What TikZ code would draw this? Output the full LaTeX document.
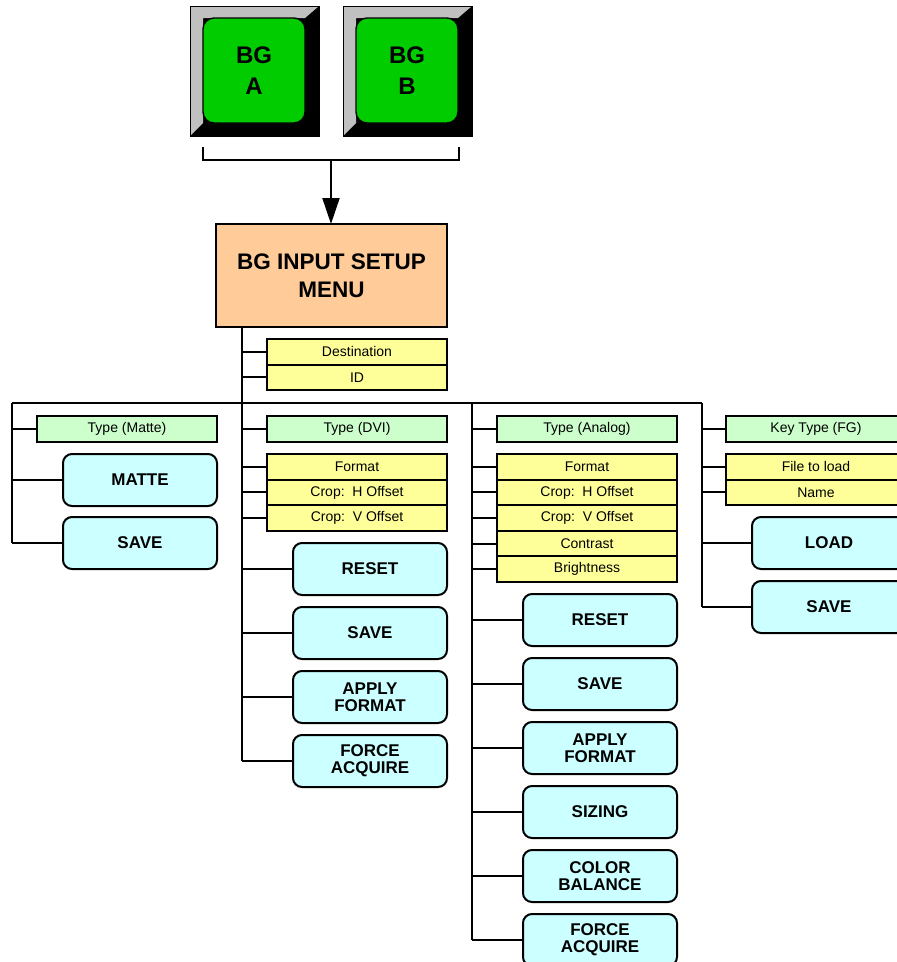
\documentclass[tikz,border=0pt]{standalone}
\usepackage{fontspec}
\setmainfont{Liberation Sans}
\usetikzlibrary{arrows.meta}
\definecolor{peach}{HTML}{FFCC99}
\definecolor{lgreen}{HTML}{CCFFCC}
\definecolor{lyel}{HTML}{FFFF99}
\definecolor{lcyan}{HTML}{CCFFFF}
\definecolor{keygreen}{HTML}{00CC00}
\definecolor{bevelgray}{HTML}{C0C0C0}
\tikzset{
  box/.style={draw=black, line width=2pt, inner sep=0pt, outer sep=0pt, anchor=north west, align=center},
  grn/.style={box, fill=lgreen, minimum width=180pt, minimum height=25.6pt, font=\fontsize{14}{16}\selectfont},
  yel/.style={box, fill=lyel, minimum width=180pt, minimum height=25.6pt, font=\fontsize{14}{16}\selectfont},
  btn/.style={box, fill=lcyan, rounded corners=9pt, minimum width=154pt, minimum height=52pt, font=\bfseries\fontsize{17}{17}\selectfont},
  menubox/.style={box, fill=peach, minimum width=231pt, minimum height=103pt, font=\bfseries\fontsize{22.5}{27.5}\selectfont},
  keyface/.style={draw=black, line width=1.4pt, fill=keygreen, rounded corners=11pt, inner sep=0pt, outer sep=0pt, anchor=north west, minimum width=102pt, minimum height=105pt, align=center, font=\bfseries\fontsize{24}{31.5}\selectfont},
  link/.style={draw=black, line width=2pt}
}
\begin{document}
\begin{tikzpicture}[x=1pt,y=-1pt]
\useasboundingbox (0,0) rectangle (897,962);
\clip (0,0) rectangle (897,962);

% ---- key buttons ----
\foreach \ox in {190,343}{
  \fill[black] (\ox,6) rectangle ++(129,130);
  \fill[bevelgray] (\ox,6) -- ++(129,0) -- ++(-14,12) -- ++(-102,0) -- ++(0,105) -- ++(-13,13) -- cycle;
  \draw[black, line width=1pt] (\ox,6) rectangle ++(129,130);
}
\node[keyface] (bga) at (203,18) {BG\\A};
\node[keyface] (bgb) at (356,18) {BG\\B};

% ---- bracket and arrow ----
\coordinate (brl) at (203,147);
\coordinate (brr) at (459,147);
\coordinate (brm) at (331,160);
\draw[link] (brl) |- (brm) -| (brr);

\node[menubox] (menu) at (216,224) {BG INPUT SETUP\\MENU};
\draw[link, -{Triangle[length=26pt,width=17pt]}] (brm) -- (brm |- menu.north);

% ---- trunk coordinates ----
\coordinate (tL) at (12,403);
\coordinate (tA) at (242,403);
\coordinate (tN) at (472,403);
\coordinate (tR) at (702,403);

% ---- left column ----
\node[grn] (tmatte) at (37,416) {Type (Matte)};
\node[btn] (matte) at (63,454) {MATTE};
\node[btn] (msave) at (63,517) {SAVE};

% ---- DVI column ----
\node[yel] (dest) at (267,339) {Destination};
\node[yel] (idb) at (267,364.6) {ID};
\node[grn] (tdvi) at (267,416) {Type (DVI)};
\node[yel] (dfmt) at (267,454) {Format};
\node[yel] (dch) at (267,479.6) {Crop:\ \ H Offset};
\node[yel] (dcv) at (267,505.2) {Crop:\ \ V Offset};
\node[btn] (dreset) at (293,543) {RESET};
\node[btn] (dsave) at (293,607) {SAVE};
\node[btn] (dapply) at (293,671) {APPLY\\FORMAT};
\node[btn] (dforce) at (293,735) {FORCE\\ACQUIRE};

% ---- Analog column ----
\node[grn] (tana) at (497,416) {Type (Analog)};
\node[yel] (afmt) at (497,454) {Format};
\node[yel] (ach) at (497,479.6) {Crop:\ \ H Offset};
\node[yel] (acv) at (497,505.2) {Crop:\ \ V Offset};
\node[yel] (acon) at (497,530.8) {Contrast};
\node[yel] (abri) at (497,556.4) {Brightness};
\node[btn] (areset) at (523,594) {RESET};
\node[btn] (asave) at (523,658) {SAVE};
\node[btn] (aapply) at (523,722) {APPLY\\FORMAT};
\node[btn] (asize) at (523,786) {SIZING};
\node[btn] (acolor) at (523,850) {COLOR\\BALANCE};
\node[btn] (aforce) at (523,914) {FORCE\\ACQUIRE};

% ---- Key column ----
\node[grn] (tkey) at (726,416) {Key Type (FG)};
\node[yel] (kfile) at (726,454) {File to load};
\node[yel] (kname) at (726,479.6) {Name};
\node[btn] (kload) at (752,517) {LOAD};
\node[btn] (ksave) at (752,581) {SAVE};

% ---- trunks ----
\draw[link] (menu.south -| tA) -- (dforce.west -| tA);
\draw[link] (tL) -- (tR);
\draw[link] (tL) -- (msave.west -| tL);
\draw[link] (tN) -- (aforce.west -| tN);
\draw[link] (tR) -- (ksave.west -| tR);

% ---- branches ----
\foreach \n in {tmatte,matte,msave}{ \draw[link] (\n.west) -- (\n.west -| tL); }
\foreach \n in {dest,idb,tdvi,dfmt,dch,dcv,dreset,dsave,dapply,dforce}{ \draw[link] (\n.west) -- (\n.west -| tA); }
\foreach \n in {tana,afmt,ach,acv,acon,abri,areset,asave,aapply,asize,acolor,aforce}{ \draw[link] (\n.west) -- (\n.west -| tN); }
\foreach \n in {tkey,kfile,kname,kload,ksave}{ \draw[link] (\n.west) -- (\n.west -| tR); }
\end{tikzpicture}
\end{document}
